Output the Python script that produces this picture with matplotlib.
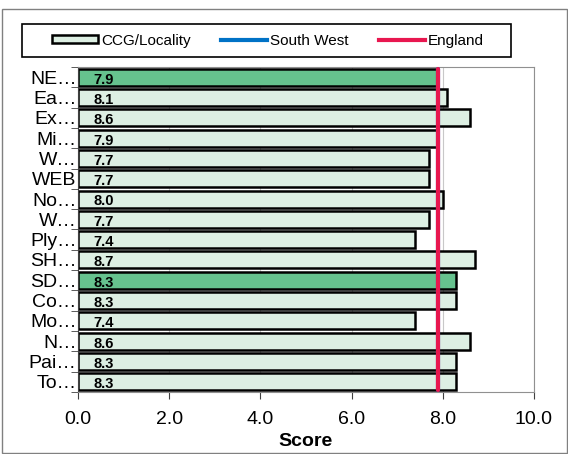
import matplotlib
matplotlib.use('Agg')
import matplotlib.pyplot as plt
from matplotlib.patches import Rectangle

plt.rcParams['font.family'] = ['Liberation Sans', 'DejaVu Sans']

# data
labels = ['NE…', 'Ea…', 'Ex…', 'Mi…', 'W…', 'WEB', 'No…', 'W…',
          'Ply…', 'SH…', 'SD…', 'Co…', 'Mo…', 'N…', 'Pai…', 'To…']
scores = [7.9, 8.1, 8.6, 7.9, 7.7, 7.7, 8.0, 7.7,
          7.4, 8.7, 8.3, 8.3, 7.4, 8.6, 8.3, 8.3]
highlight = [True, False, False, False, False, False, False, False,
             False, False, True, False, False, False, False, False]
south_west = 7.9
england = 7.9

light = '#DDEFE3'
dark = '#66C28E'

fig = plt.figure(figsize=(5.68, 4.54), dpi=100)
ax = fig.add_axes([0.1373, 0.1366, 0.8028, 0.7158])

# outer frame of the chart
fig.patches.append(Rectangle((0.004, 0.003), 0.994, 0.978, transform=fig.transFigure,
                             fill=False, edgecolor='#808080', linewidth=1))

n = len(labels)
ypos = list(range(n))
colors = [dark if h else light for h in highlight]
ax.barh(ypos, scores, height=0.84, color=colors, edgecolor='black', linewidth=1.8,
        zorder=2)

for y, v in zip(ypos, scores):
    ax.text(0.33, y + 0.12, f'{v:.1f}', ha='left', va='center',
            fontsize=10.5, fontweight='bold', zorder=4)

# regional lines
ax.plot([south_west, south_west], [-0.4, n - 0.6], color='#0072C6', linewidth=3,
        solid_capstyle='round', zorder=3)
ax.plot([england, england], [-0.4, n - 0.6], color='#E8174F', linewidth=3,
        solid_capstyle='round', zorder=3)

ax.set_xlim(0, 10)
ax.set_ylim(n - 0.5, -0.5)
ax.set_xticks([0, 2, 4, 6, 8, 10])
ax.set_xticklabels(['0.0', '2.0', '4.0', '6.0', '8.0', '10.0'], fontsize=14)
ax.set_yticks(ypos)
ax.set_yticklabels(labels, fontsize=14)
ax.set_yticks([i - 0.5 for i in range(n + 1)], minor=True)
ax.tick_params(axis='y', which='major', length=0, pad=1)
ax.tick_params(axis='y', which='minor', length=5, color='#404040')
ax.tick_params(axis='x', length=5, color='#404040', pad=9)
ax.xaxis.grid(True, color='#C8C8C8', linewidth=0.8, zorder=0)
ax.set_axisbelow(True)
for side in ['top', 'right', 'bottom']:
    ax.spines[side].set_color('#909090')
ax.spines['left'].set_color('#404040')
ax.set_xlabel('Score', fontsize=14, fontweight='bold', labelpad=3)

# legend box drawn separately, legend entries without frame
fig.patches.append(Rectangle((0.0387, 0.8744), 0.861, 0.0727, transform=fig.transFigure,
                             fill=False, edgecolor='black', linewidth=1.2))
h1 = Rectangle((0, 0), 1, 1, facecolor=light, edgecolor='black', linewidth=1.8)
h2, = ax.plot([], [], color='#0072C6', linewidth=3)
h3, = ax.plot([], [], color='#E8174F', linewidth=3)
leg = fig.legend([h1, h2, h3], ['CCG/Locality', 'South West', 'England'],
                 loc='center left', bbox_to_anchor=(0.0915, 0.9107), ncol=3,
                 fontsize=11, frameon=False, handlelength=3.0,
                 handleheight=0.5, columnspacing=2.0, handletextpad=0.2,
                 borderpad=0, borderaxespad=0)

fig.savefig('out.png', dpi=100)
